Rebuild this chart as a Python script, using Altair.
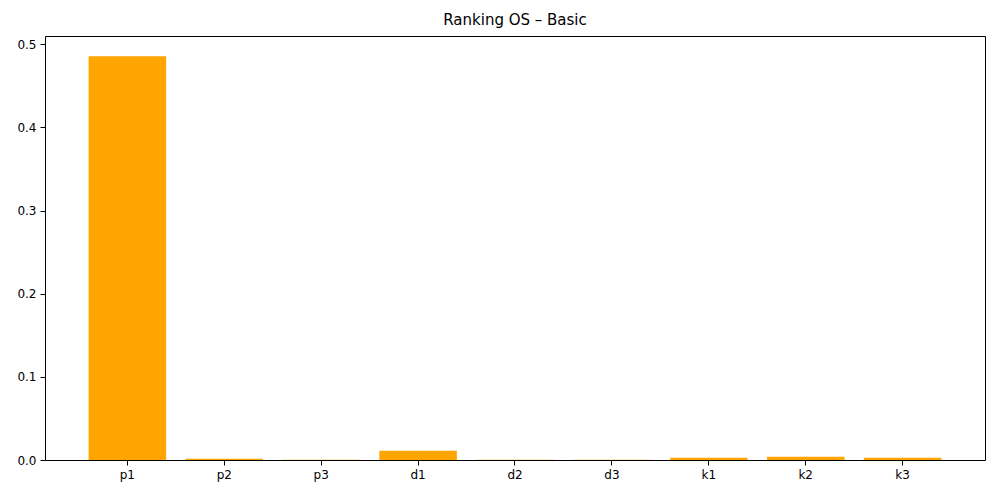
import altair as alt
import pandas as pd

cats = ["p1","p2","p3","d1","d2","d3","k1","k2","k3"]
vals = [0.4855, 0.0015, 0.0003, 0.011, 0.0002, 0.0002, 0.0028, 0.004, 0.0028]
df = pd.DataFrame({"cat": cats, "val": vals})

chart = alt.Chart(df).mark_bar(color="#FFA500").encode(
    x=alt.X("cat:N", sort=cats, title=None,
            scale=alt.Scale(paddingInner=0.2, paddingOuter=0.45),
            axis=alt.Axis(labelAngle=0, labelFontSize=12, labelColor="black", tickColor="black",
                          domain=False, grid=False, tickSize=5, labelPadding=4)),
    y=alt.Y("val:Q", title=None, scale=alt.Scale(domain=[0, 0.51], nice=False),
            axis=alt.Axis(values=[0,0.1,0.2,0.3,0.4,0.5], format=".1f", labelFontSize=12,
                          labelColor="black", tickColor="black", domain=False, grid=False,
                          tickSize=5, labelPadding=4)),
).properties(
    width=940, height=424,
    title=alt.TitleParams("Ranking OS – Basic", fontSize=15, fontWeight="normal", font="DejaVu Sans", offset=8),
    padding={"left": 8, "top": 5, "right": 5, "bottom": 5},
).configure_view(stroke="black", strokeWidth=1).configure_axis(labelFont="DejaVu Sans")

chart.save("out.html", embed_options={"renderer": "svg", "actions": False})
